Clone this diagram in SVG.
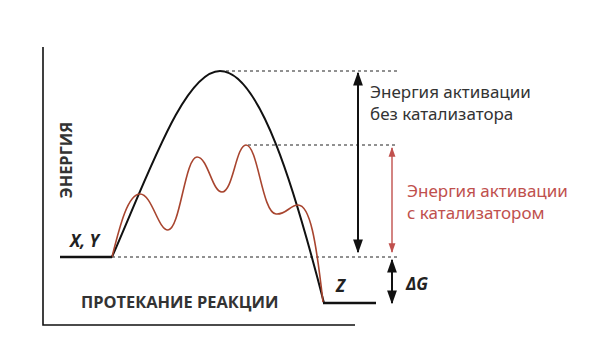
<svg xmlns="http://www.w3.org/2000/svg" width="608" height="360" viewBox="0 0 608 360">
<defs>
<style>
.ax{stroke:#111;stroke-width:1.6;fill:none}
.lvl{stroke:#111;stroke-width:2.6;fill:none}
.dash{stroke:#222;stroke-width:1;stroke-dasharray:3 3;fill:none}
.blk{stroke:#111;stroke-width:2;fill:none}
.red{stroke:#a8452f;stroke-width:1.6;fill:none}
.lbl{font-family:"Noto Sans","Open Sans",sans-serif;font-size:17px;fill:#333}
.lblr{font-family:"Noto Sans","Open Sans",sans-serif;font-size:17px;fill:#c0504d}
.bold{font-family:"Open Sans","Noto Sans",sans-serif;font-weight:bold;font-size:16.4px;fill:#333}
.bi{font-family:"Open Sans","Noto Sans",sans-serif;font-weight:bold;font-style:italic;font-size:17px;fill:#222}
</style>
<marker id="ab" viewBox="0 0 10 10" refX="9" refY="5" markerWidth="7" markerHeight="7" orient="auto-start-reverse"><path d="M0,1.5 L10,5 L0,8.5 Z" fill="#111"/></marker>
<marker id="ar" viewBox="0 0 10 10" refX="9" refY="5" markerWidth="7" markerHeight="7" orient="auto-start-reverse"><path d="M0,1.5 L10,5 L0,8.5 Z" fill="#c0504d"/></marker>
</defs>
<g id="axes">
<path class="ax" d="M43,47 L43,325 L355,325"/>
</g>
<g id="connectors">
<path class="dash" d="M226,71 L397,71"/>
<path class="dash" d="M248,145 L397,145"/>
<path class="dash" d="M112,257 L397,257"/>
<path class="blk" d="M112,257 C150,170 185,71 220,71 C260,71 295,190 324,303"/>
<path class="red" d="M112,257 C120,225 128,194 140,194 C152,194 158,230 168,230 C180,230 185,157 197,157 C208,157 212,192 222,192 C233,192 236,145 246,145 C258,145 262,213 276,214 C286,215 290,205 298,205 C310,205 316,240 323,302"/>
<path class="blk" stroke-width="1.4" d="M358,73 L358,252" marker-start="url(#ab)" marker-end="url(#ab)"/>
<path stroke="#c0504d" stroke-width="1.4" fill="none" d="M392,148 L392,252" marker-start="url(#ar)" marker-end="url(#ar)"/>
<path class="blk" stroke-width="1.4" d="M392,260 L392,303" marker-start="url(#ab)" marker-end="url(#ab)"/>
</g>
<g id="reactants">
<path class="lvl" d="M60,257 L112,257"/>
<text class="bi" x="70" y="247">X, Y</text>
</g>
<g id="product">
<path class="lvl" d="M323,303 L376,303"/>
<text class="bi" x="336" y="292">Z</text>
</g>
<g id="label-uncat">
<text class="lbl" x="370" y="98">Энергия активации</text>
<text class="lbl" x="370" y="120">без катализатора</text>
</g>
<g id="label-cat">
<text class="lblr" x="407" y="197">Энергия активации</text>
<text class="lblr" x="407" y="219">с катализатором</text>
</g>
<g id="label-dg">
<text class="bi" x="406" y="290">ΔG</text>
</g>
<g id="axis-labels">
<text class="bold" x="81" y="308">ПРОТЕКАНИЕ РЕАКЦИИ</text>
<text class="bold" transform="translate(72,160) rotate(-90)" text-anchor="middle">ЭНЕРГИЯ</text>
</g>
</svg>
